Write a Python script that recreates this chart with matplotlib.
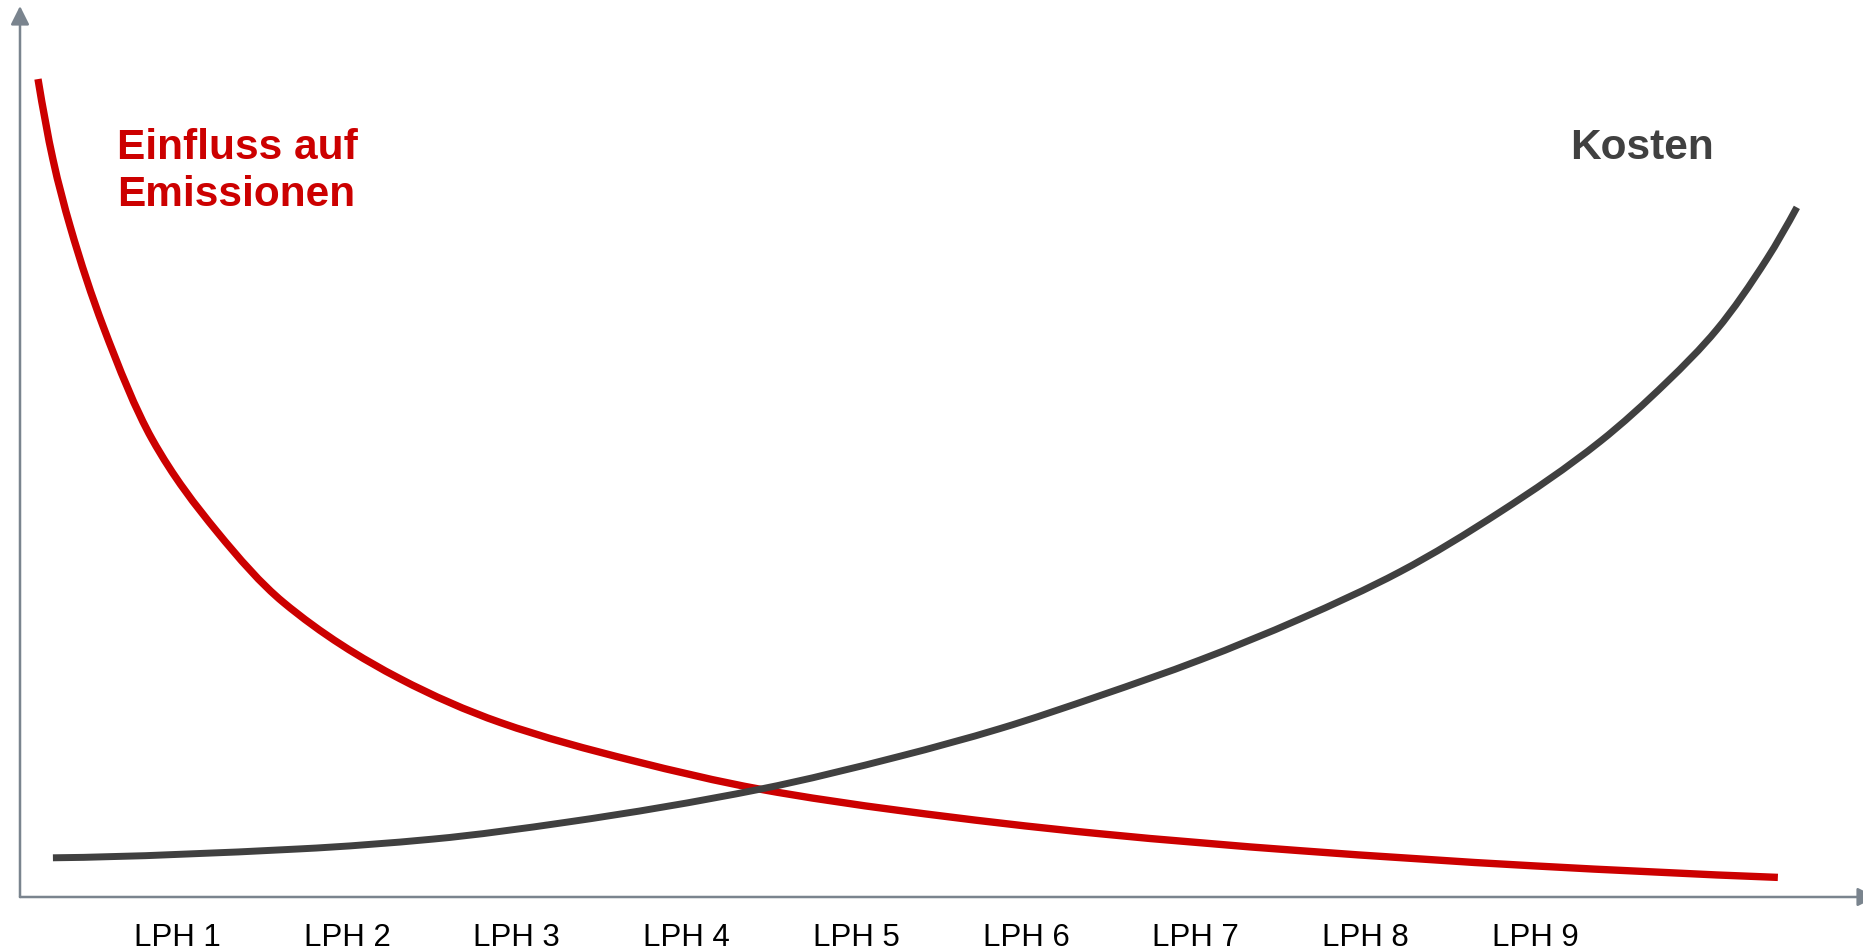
import matplotlib
matplotlib.use("Agg")
import matplotlib.pyplot as plt
from matplotlib.path import Path
from matplotlib.patches import PathPatch

plt.rcParams['font.family'] = ['Liberation Sans', 'DejaVu Sans']

# Leistungsphasen auf der x-Achse
phases = ["LPH 1", "LPH 2", "LPH 3", "LPH 4", "LPH 5", "LPH 6", "LPH 7", "LPH 8", "LPH 9"]
phase_pos = [1, 2, 3, 4, 5, 6, 7, 8, 9]

# Einfluss auf Emissionen (relativ, 0-100)
einfluss_x = [0.178, 0.266, 0.367, 0.561, 0.850, 1.233, 1.622, 2.311, 2.900,
              3.684, 4.433, 5.258, 6.436, 7.615, 8.988, 10.431]
einfluss_y = [91.8, 82.8, 75.3, 64.1, 51.4, 41.0, 33.1, 24.5, 19.6,
              15.3, 12.1, 9.7, 7.1, 5.2, 3.5, 2.2]

# Kosten (relativ, 0-100)
kosten_x = [0.266, 1.722, 2.506, 3.295, 4.433, 5.258, 5.847, 6.436, 7.025,
            7.615, 8.204, 8.793, 9.382, 9.777, 10.072, 10.366, 10.543]
kosten_y = [4.4, 5.4, 6.5, 8.4, 12.1, 15.8, 18.9, 22.6, 26.6,
            31.2, 36.5, 43.2, 51.1, 57.8, 63.7, 71.6, 77.4]

RED = "#cc0000"
DARK = "#404040"
AXIS = "#7a848e"


def curve_path(xs, ys):
    # monotone kubische Kurve (Fritsch-Carlson) als Bezier-Segmente
    n = len(xs)
    h = [xs[i + 1] - xs[i] for i in range(n - 1)]
    d = [(ys[i + 1] - ys[i]) / h[i] for i in range(n - 1)]
    m = [0.0] * n
    for i in range(1, n - 1):
        if d[i - 1] * d[i] <= 0:
            m[i] = 0.0
        else:
            w1 = 2 * h[i] + h[i - 1]
            w2 = h[i] + 2 * h[i - 1]
            m[i] = (w1 + w2) / (w1 / d[i - 1] + w2 / d[i])
    m[0] = ((2 * h[0] + h[1]) * d[0] - h[0] * d[1]) / (h[0] + h[1])
    if m[0] * d[0] <= 0:
        m[0] = 0.0
    m[-1] = ((2 * h[-1] + h[-2]) * d[-1] - h[-1] * d[-2]) / (h[-1] + h[-2])
    if m[-1] * d[-1] <= 0:
        m[-1] = 0.0
    verts = [(xs[0], ys[0])]
    codes = [Path.MOVETO]
    for i in range(n - 1):
        verts += [(xs[i] + h[i] / 3, ys[i] + m[i] * h[i] / 3),
                  (xs[i + 1] - h[i] / 3, ys[i + 1] - m[i + 1] * h[i] / 3),
                  (xs[i + 1], ys[i + 1])]
        codes += [Path.CURVE4] * 3
    return Path(verts, codes)


W, H = 1863, 953
fig = plt.figure(figsize=(W / 100, H / 100), dpi=100)
ax = fig.add_axes([20 / W, 1 - 898 / H, 1840 / W, 891 / H])

ax.add_patch(PathPatch(curve_path(einfluss_x, einfluss_y), fill=False,
                       edgecolor=RED, lw=5.3, capstyle='butt', joinstyle='round'))
ax.add_patch(PathPatch(curve_path(kosten_x, kosten_y), fill=False,
                       edgecolor=DARK, lw=5.0, capstyle='butt', joinstyle='round'))

ax.set_xlim(0.072, 10.915)
ax.set_ylim(0, 100)

for s in ax.spines.values():
    s.set_visible(False)
ax.set_yticks([])
ax.set_xticks(phase_pos)
ax.set_xticklabels(phases, fontsize=22.5, color="#000000")
ax.tick_params(axis='x', length=0, pad=18)

# Achsen mit Pfeilspitzen
arrow = dict(arrowstyle='-|>', color=AXIS, lw=1.8, mutation_scale=28, shrinkA=0, shrinkB=0)
ax.annotate('', xy=(0, 1), xytext=(0, 0), xycoords='axes fraction',
            textcoords='axes fraction', arrowprops=arrow, annotation_clip=False)
ax.annotate('', xy=(1.0087, 0), xytext=(0, 0), xycoords='axes fraction',
            textcoords='axes fraction', arrowprops=arrow, annotation_clip=False)

fig.text(117 / W, 1 - 159 / H, "Einfluss auf", color=RED, fontsize=30.5,
         fontweight='bold', va='baseline', ha='left')
fig.text(117 / W, 1 - 206 / H, "Emissionen", color=RED, fontsize=30.5,
         fontweight='bold', va='baseline', ha='left')
fig.text(1570 / W, 1 - 159 / H, "Kosten", color=DARK, fontsize=30.5,
         fontweight='bold', va='baseline', ha='left')

fig.savefig("out.png", dpi=100, facecolor="white")
